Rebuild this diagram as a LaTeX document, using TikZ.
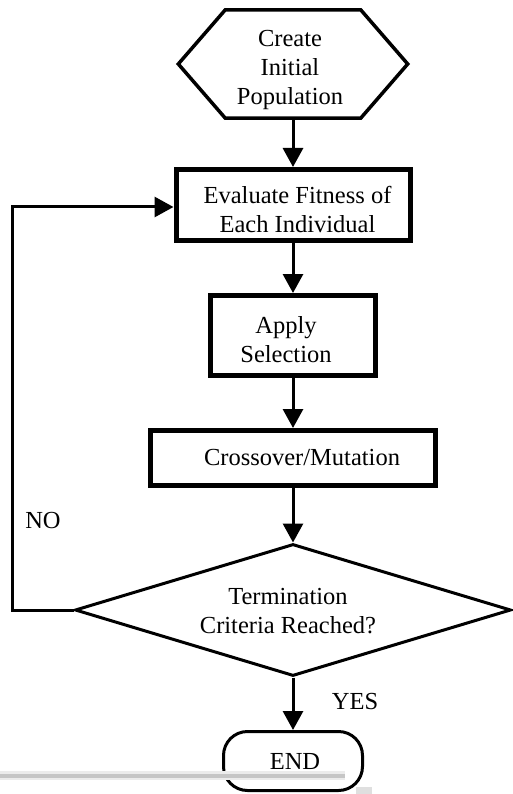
\documentclass[tikz,border=0pt]{standalone}
\usepackage{fontspec}
\setmainfont{Liberation Serif}
\usetikzlibrary{arrows.meta,shapes.geometric}
\begin{document}
\begin{tikzpicture}[x=1pt,y=-1pt,
  every node/.style={inner sep=0pt},
  txt/.style={font=\fontsize{24.5}{29}\selectfont, align=center},
  box/.style={draw, rectangle, line width=5pt},
  flow/.style={line width=3pt, -{Triangle[length=19pt,width=20pt]}}]
\useasboundingbox (0,0) rectangle (513,794);
\fill[white] (0,0) rectangle (513,794);

% shapes
\node[minimum width=229pt, minimum height=108pt] (start) at (293,64) {};
\draw[line width=3.5pt, line join=miter]
  (start.west) -- ([xshift=47pt]start.north west) -- ([xshift=-47pt]start.north east)
  -- (start.east) -- ([xshift=-47pt]start.south east) -- ([xshift=47pt]start.south west) -- cycle;
\node[box, minimum width=234pt, minimum height=71pt] (eval) at (293,205) {};
\node[box, minimum width=165pt, minimum height=80pt] (sel) at (293,335.5) {};
\node[box, minimum width=285pt, minimum height=55pt] (cross) at (293,458) {};
\node[draw, diamond, line width=3pt, minimum width=436pt, minimum height=132pt] (term) at (293,610) {};
\node[draw, rectangle, rounded corners=24pt, line width=3pt, minimum width=139pt, minimum height=59pt] (stop) at (293,761) {};

% texts
\node[txt] (startT) at (290,70) {Create\\Initial\\Population};
\node[txt] (evalT) at (297.5,209.5) {Evaluate Fitness of\\Each Individual};
\node[txt] (selT) at (286,339.5) {Apply\\Selection};
\node[txt] (crossT) at (302,458) {Crossover/Mutation};
\node[txt] (termT) at (288,611) {Termination\\Criteria Reached?};
\node[txt] (stopT) at (295,761) {END};
\node[txt] (no) at (43,521) {NO};
\node[txt] (yes) at (355,702) {YES};

% connectors
\coordinate (fb) at (12,610);
\draw[flow] (start.south) -- (eval.north);
\draw[flow] (eval.south) -- (sel.north);
\draw[flow] (sel.south) -- (cross.north);
\draw[flow] (cross.south) -- (term.north);
\draw[flow] (term.south) -- (stop.north);
\draw[flow] (term.west) -- (fb) |- ([yshift=-2pt]eval.west);

% scan artifact
\draw[gray!15, line width=9pt] (0,775) -- (345,775);
\draw[gray!45, line width=3.5pt] (0,776) -- (345,776);
\fill[gray!25] (356,787) rectangle (372,794);
\end{tikzpicture}
\end{document}
